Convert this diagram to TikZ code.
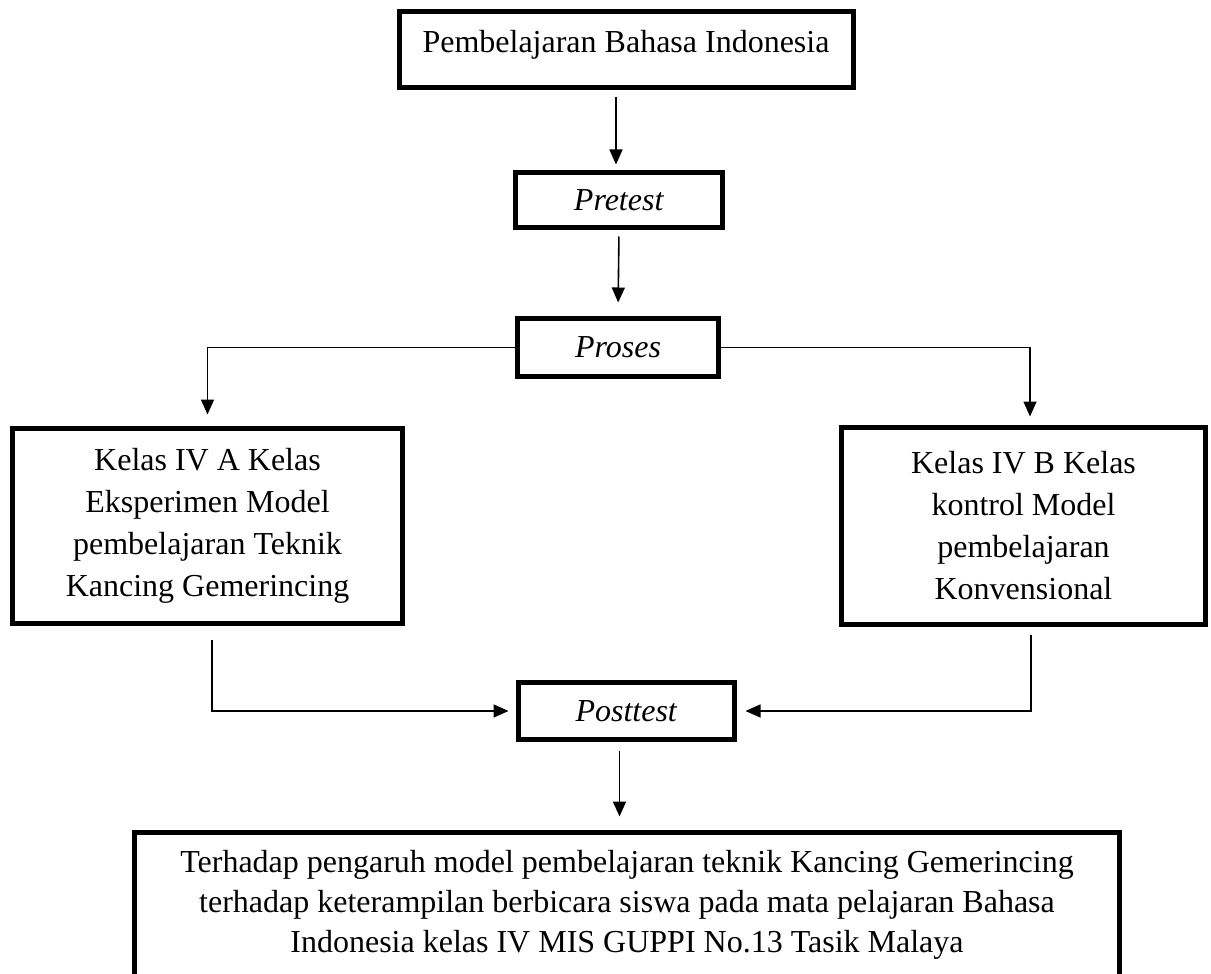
\documentclass[tikz,border=0pt]{standalone}
\usepackage{fontspec}
\setmainfont{Liberation Serif}
\usetikzlibrary{arrows.meta}

\begin{document}
\begin{tikzpicture}[x=0.5pt,y=-0.5pt]
\tikzset{kotak/.style={draw,line width=2.5pt,inner sep=0pt,align=center,font=\fontsize{16}{21}\selectfont},
panah/.style={line width=0.8pt,-{Triangle[length=7.5pt,width=6.5pt]}}}
\useasboundingbox (0,0) rectangle (1211,974);
\clip (0,0) rectangle (1211,974);
\node[kotak,minimum width=227pt,text height=20.25pt,text depth=17.75pt](judul) at (626,50){Pembelajaran Bahasa Indonesia};
\node[kotak,minimum width=103.5pt,minimum height=27.5pt](pre) at (619,200){\textit{Pretest}};
\draw[panah,shorten <=3.25pt,shorten >=2.75pt]([xshift=-1.5pt]pre.north |- judul.south) -- ([xshift=-1.5pt]pre.north);
\node[kotak,minimum width=100.5pt,minimum height=29pt](proses) at (618,347.5){\textit{Proses}};
\draw[panah,shorten <=3.25pt,shorten >=6.75pt](pre.south) -- (proses.north);
\node[kotak,minimum width=195pt,minimum height=97.5pt](kiri) at (207.5,526){Kelas IV A Kelas\\Eksperimen Model\\pembelajaran Teknik\\Kancing Gemerincing};
\draw[panah,shorten >=5.75pt](proses.west) -| (kiri.north);
\node[kotak,minimum width=182pt,minimum height=98.5pt](kanan) at (1023.5,526){Kelas IV B Kelas\\kontrol Model\\pembelajaran\\Konvensional};
\draw[panah,shorten >=4.25pt](proses.east) -| ([xshift=3.25pt]kanan.north);
\node[kotak,minimum width=108pt,minimum height=28.5pt](post) at (626.5,711){\textit{Posttest}};
\draw[panah,shorten <=6.75pt,shorten >=3.75pt]([xshift=2.25pt]kiri.south) |- (post.west);
\draw[panah,shorten <=3.75pt,shorten >=4.25pt]([xshift=3.75pt]kanan.south) |- (post.east);
\node[kotak,minimum width=492.5pt,minimum height=72.75pt,font=\fontsize{16}{20}\selectfont](hasil) at (627,905.25){Terhadap pengaruh model pembelajaran teknik Kancing Gemerincing\\terhadap keterampilan berbicara siswa pada mata pelajaran Bahasa\\Indonesia kelas IV MIS GUPPI No.13 Tasik Malaya};
\draw[panah,shorten <=4.25pt,shorten >=6.75pt]([xshift=-3.5pt]post.south) -- ([xshift=-3.5pt]post.south |- hasil.north);
\end{tikzpicture}
\end{document}
